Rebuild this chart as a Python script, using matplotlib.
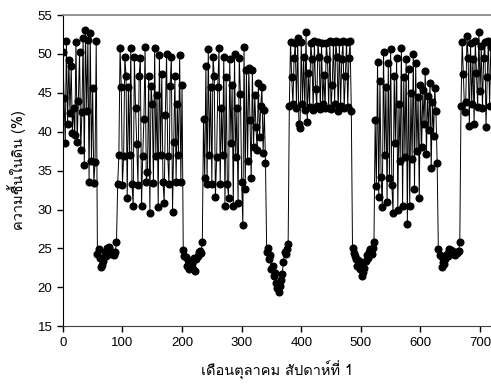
import numpy as np
import matplotlib
matplotlib.use("Agg")
import matplotlib.pyplot as plt
from matplotlib import font_manager
from matplotlib.ft2font import FT2Font

# --- data (soil moisture %, sampled every 2 steps) ---
seg_a = [50.2, 44.3, 38.6, 51.6, 41.0, 49.2, 42.4, 48.5, 39.9, 43.1,
         39.6, 51.5, 38.7, 44.0, 50.3, 37.7, 42.5, 52.0, 35.7, 53.1,
         42.7, 51.8, 33.6, 52.7, 36.3, 45.6, 33.4, 36.1, 51.6]
low_1 = [24.3, 24.9, 23.8, 22.6, 22.9, 23.4, 24.5, 24.0, 25.0, 24.7,
         25.2, 24.3, 24.6, 24.4, 24.2, 24.5, 25.8]
seg_b = [33.3, 37.0, 50.7, 45.8, 33.2, 36.9, 49.6, 47.2, 31.5, 45.8,
         37.0, 50.8, 33.3, 30.4, 49.6, 43.0, 38.4, 33.2, 47.1, 49.5,
         30.4, 36.9, 41.6, 50.9, 33.6, 34.8, 47.2, 29.6, 45.9, 43.6,
         33.4, 50.7, 36.9, 44.7, 30.3, 49.9, 37.0, 47.4, 33.6, 30.9,
         42.2, 50.0, 36.9, 33.3, 45.9, 49.6, 29.7, 38.7, 47.2, 33.5,
         43.6, 37.0, 49.8, 33.6, 46.0]
low_2 = [24.8, 24.0, 23.9, 22.7, 23.5, 22.4, 22.8, 23.1, 22.3, 23.8,
         22.1, 23.6, 24.0, 24.5, 24.7, 24.4, 25.8]
seg_c = [41.6, 34.0, 48.4, 33.3, 50.6, 37.0, 45.8, 33.3, 49.6, 47.2,
         31.6, 36.7, 45.8, 50.7, 33.3, 43.0, 37.0, 49.6, 30.5, 47.0,
         33.3, 31.5, 49.3, 38.5, 46.0, 30.4, 50.0, 36.8, 43.0, 30.8,
         49.5, 44.8, 33.6, 28.0, 50.9, 32.6, 47.9, 36.3, 48.2, 41.5,
         34.0, 47.9, 38.0, 44.7, 40.6, 37.6, 46.2, 39.3, 43.3, 45.7,
         37.3, 42.8, 36.0]
low_3 = [24.6, 25.0, 23.7, 24.1, 22.3, 22.8, 21.5, 21.9, 20.5, 19.9,
         19.4, 20.2, 21.0, 21.7, 23.2, 24.6, 24.3, 24.9, 25.6]
seg_d = [43.3, 51.5, 47.0, 43.5, 49.5, 51.4, 43.0, 52.0, 41.0, 40.5,
         51.5, 43.5, 49.6, 42.8, 52.8, 41.2, 47.5, 43.2, 51.4, 49.4,
         42.8, 51.6, 45.5, 43.3, 51.5, 49.6, 42.9, 51.4, 43.6, 47.3,
         43.0, 51.4, 49.4, 43.1, 51.6, 42.9, 46.0, 51.5, 43.5, 51.7,
         49.6, 42.6, 51.5, 43.3, 49.4, 51.6, 43.0, 47.2, 51.5, 43.2,
         49.5, 51.6, 42.6]
low_4 = [25.0, 24.4, 24.0, 23.6, 22.8, 23.5, 22.4, 23.2, 21.5, 22.0,
         22.5, 23.4, 24.2, 23.8, 24.6, 24.9, 24.3, 25.0, 25.8]
seg_e = [41.5, 33.0, 49.0, 31.6, 46.5, 34.2, 30.3, 50.2, 37.0, 45.8,
         31.0, 48.8, 34.0, 50.6, 33.2, 29.5, 47.2, 38.5, 49.5, 30.0,
         43.5, 36.2, 50.8, 30.4, 47.0, 36.8, 49.3, 28.1, 48.0, 30.5,
         45.0, 36.5, 50.0, 32.6, 48.8, 37.5, 44.5, 31.5, 46.0, 38.0,
         45.3, 41.0, 47.8, 37.2, 44.6, 40.2, 46.3, 35.3, 43.8, 39.5,
         45.6, 42.6, 36.0]
low_5 = [24.9, 24.2, 24.0, 22.6, 23.3, 23.0, 23.7, 24.3, 24.0, 24.9,
         24.5, 24.8, 24.3, 24.6, 24.2, 24.5, 24.4, 24.7, 25.8]
seg_f = [43.3, 51.5, 47.4, 42.5, 43.8, 52.3, 49.5, 40.8, 51.4, 43.5,
         49.4, 41.0, 51.6, 47.5, 43.2, 52.8, 45.2, 51.0, 43.0, 49.5,
         51.5, 40.6, 47.0, 51.7, 43.3, 50.9]

segments = [seg_a, low_1, seg_b, low_2, seg_c, low_3, seg_d, low_4,
            seg_e, low_5, seg_f]
moisture = np.concatenate([np.array(s, dtype=float) for s in segments])
step = 2
hours = np.arange(len(moisture)) * step

x_ticks = [0, 100, 200, 300, 400, 500, 600, 700]
y_ticks = [15, 20, 25, 30, 35, 40, 45, 50, 55]
x_label = "เดือนตุลาคม สัปดาห์ที่ 1"
y_label = "ความชื้นในดิน (%)"

# find a font that has Thai glyphs
thai_font = None
for f in font_manager.fontManager.ttflist:
    try:
        cm = FT2Font(f.fname).get_charmap()
        if 0x0E04 in cm and 0x0E37 in cm:
            thai_font = f.name
            break
    except Exception:
        pass
families = ["Liberation Sans", "DejaVu Sans"]
label_fams = ([thai_font] if thai_font else []) + families
plt.rcParams["font.family"] = families

fig = plt.figure(figsize=(4.91, 3.86), dpi=100)
ax = fig.add_axes([0.128, 0.155, 0.874, 0.806])
ax.plot(hours, moisture, color="black", lw=0.7, marker="o",
        markersize=4.8, markerfacecolor="black", markeredgecolor="black")
ax.set_xlim(0, 720)
ax.set_ylim(15, 55)
ax.set_xticks(x_ticks)
ax.set_yticks(y_ticks)
ax.tick_params(direction="out", length=4, width=1, labelsize=9.5, colors="black")
ax.spines["top"].set_color("#808080")
ax.spines["top"].set_linewidth(1.2)
ax.spines["right"].set_visible(False)
ax.spines["left"].set_color("black")
ax.spines["bottom"].set_color("#404040")
ax.set_xlabel(x_label, family=label_fams, fontsize=10.5, labelpad=9)
ax.set_ylabel(y_label, family=label_fams, fontsize=10.5, labelpad=8)
fig.savefig("out.png", dpi=100)
